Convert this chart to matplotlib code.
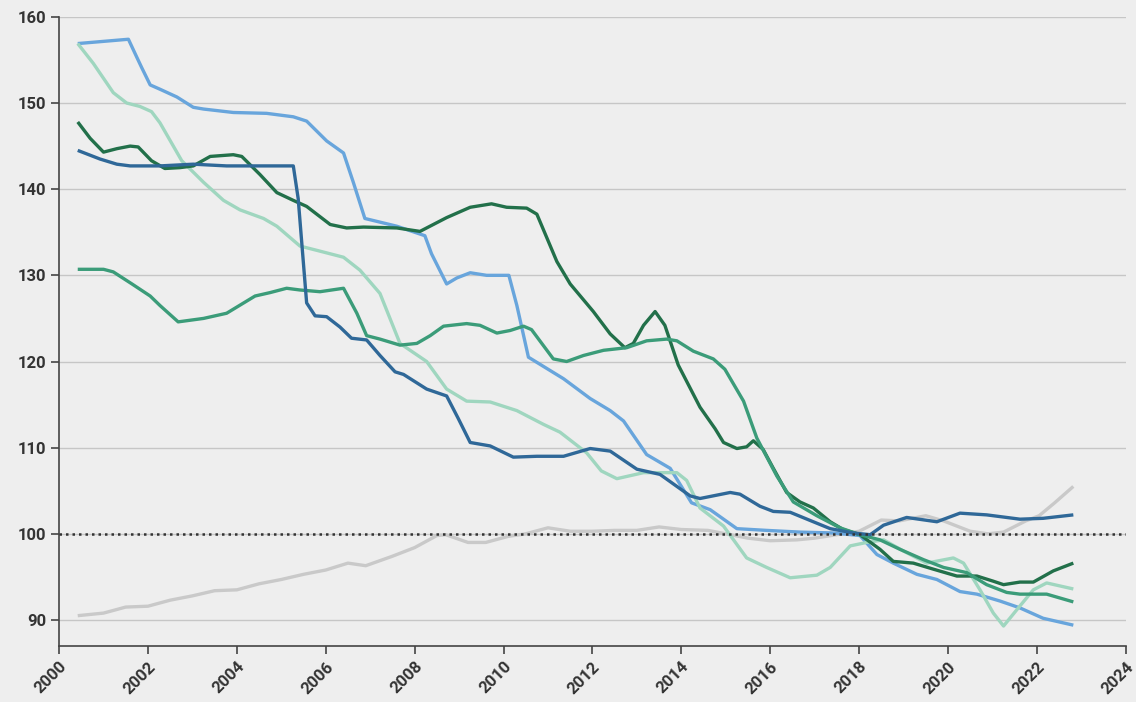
import numpy as np
import matplotlib
matplotlib.use("Agg")
import matplotlib.pyplot as plt

# Valeurs (indice, base 100 en 2018)
gray_years = [2000.42, 2001.0, 2001.5, 2002.0, 2002.5, 2003.0, 2003.5, 2004.0, 2004.5, 2005.0,
              2005.5, 2006.0, 2006.5, 2006.9, 2007.5, 2008.0, 2008.5, 2008.7, 2009.2, 2009.6,
              2010.1, 2010.5, 2011.0, 2011.5, 2012.0, 2012.5, 2013.0, 2013.5, 2014.0, 2014.6,
              2015.0, 2015.5, 2016.0, 2016.6, 2017.0, 2017.5, 2018.0, 2018.5, 2018.9, 2019.5,
              2019.9, 2020.5, 2020.9, 2021.25, 2021.75, 2022.05, 2022.4, 2022.82]
gray_vals = [90.5, 90.8, 91.5, 91.6, 92.3, 92.8, 93.4, 93.5, 94.2, 94.7,
             95.3, 95.8, 96.6, 96.3, 97.4, 98.4, 99.8, 99.9, 99.0, 99.0,
             99.7, 100.0, 100.7, 100.3, 100.3, 100.4, 100.4, 100.8, 100.5, 100.4,
             100.0, 99.5, 99.2, 99.3, 99.5, 99.9, 100.3, 101.6, 101.5, 102.1,
             101.5, 100.3, 100.0, 100.2, 101.5, 102.1, 103.6, 105.5]

lblue_years = [2000.42, 2001.56, 2001.75, 2001.86, 2002.05, 2002.27, 2002.65, 2003.02, 2003.25, 2003.92,
               2004.67, 2005.27, 2005.57, 2006.02, 2006.4, 2006.62, 2006.88, 2007.6, 2008.23, 2008.38,
               2008.72, 2008.95, 2009.25, 2009.62, 2010.12, 2010.3, 2010.56, 2011.35, 2011.95, 2012.4,
               2012.7, 2013.22, 2013.75, 2014.23, 2014.65, 2015.25, 2015.92, 2016.67, 2017.42, 2018.02,
               2018.4, 2018.77, 2019.3, 2019.75, 2020.27, 2020.65, 2021.17, 2021.62, 2022.14, 2022.82]
lblue_vals = [156.9, 157.4, 155.3, 154.1, 152.1, 151.6, 150.7, 149.5, 149.3, 148.9,
              148.8, 148.4, 147.9, 145.6, 144.2, 140.8, 136.6, 135.7, 134.6, 132.5,
              129.0, 129.7, 130.3, 130.0, 130.0, 126.5, 120.5, 118.0, 115.7, 114.3,
              113.1, 109.2, 107.6, 103.6, 102.8, 100.6, 100.4, 100.2, 100.1, 99.8,
              97.6, 96.6, 95.3, 94.7, 93.3, 93.0, 92.2, 91.4, 90.2, 89.4]

mint_years = [2000.42, 2000.77, 2001.22, 2001.52, 2001.82, 2002.08, 2002.27, 2002.76, 2003.25, 2003.7,
              2004.07, 2004.6, 2004.9, 2005.42, 2005.8, 2006.4, 2006.77, 2007.22, 2007.67, 2008.27,
              2008.72, 2009.17, 2009.7, 2010.3, 2010.9, 2011.27, 2011.87, 2012.2, 2012.55, 2013.15,
              2013.9, 2014.12, 2014.42, 2014.95, 2015.47, 2015.92, 2016.45, 2017.05, 2017.35, 2017.8,
              2018.17, 2018.55, 2019.0, 2019.52, 2020.12, 2020.35, 2020.72, 2021.02, 2021.25, 2021.55,
              2021.92, 2022.22, 2022.82]
mint_vals = [156.9, 154.6, 151.2, 150.0, 149.6, 149.0, 147.7, 143.3, 140.8, 138.7,
             137.6, 136.6, 135.7, 133.4, 132.9, 132.1, 130.6, 127.9, 122.1, 120.0,
             116.8, 115.4, 115.3, 114.3, 112.7, 111.8, 109.4, 107.3, 106.4, 107.1,
             107.1, 106.2, 103.0, 100.9, 97.2, 96.1, 94.9, 95.2, 96.1, 98.6,
             99.0, 99.3, 98.0, 96.6, 97.2, 96.6, 93.5, 90.8, 89.3, 91.2,
             93.5, 94.3, 93.6]

dgreen_years = [2000.42, 2000.7, 2001.0, 2001.3, 2001.6, 2001.78, 2002.08, 2002.38, 2002.72, 2003.02,
                2003.4, 2003.92, 2004.11, 2004.52, 2004.9, 2005.27, 2005.57, 2006.1, 2006.47, 2006.85,
                2007.6, 2008.12, 2008.72, 2009.25, 2009.73, 2010.07, 2010.52, 2010.75, 2011.2, 2011.5,
                2012.02, 2012.4, 2012.73, 2012.92, 2013.15, 2013.41, 2013.63, 2013.93, 2014.42, 2014.76,
                2014.95, 2015.25, 2015.47, 2015.62, 2015.84, 2016.07, 2016.37, 2016.67, 2016.97, 2017.35,
                2017.64, 2018.02, 2018.47, 2018.77, 2019.22, 2019.67, 2020.2, 2020.65, 2021.02, 2021.25,
                2021.62, 2021.92, 2022.37, 2022.82]
dgreen_vals = [147.8, 145.9, 144.3, 144.7, 145.0, 144.9, 143.3, 142.4, 142.5, 142.7,
               143.8, 144.0, 143.8, 141.7, 139.6, 138.7, 138.0, 135.9, 135.5, 135.6,
               135.5, 135.1, 136.7, 137.9, 138.3, 137.9, 137.8, 137.1, 131.6, 129.0,
               125.8, 123.2, 121.6, 122.1, 124.2, 125.8, 124.2, 119.6, 114.7, 112.2,
               110.6, 109.9, 110.1, 110.8, 109.8, 107.6, 104.8, 103.7, 103.0, 101.4,
               100.5, 99.9, 98.2, 96.8, 96.6, 95.9, 95.1, 95.1, 94.5, 94.1,
               94.4, 94.4, 95.7, 96.6]

mgreen_years = [2000.42, 2001.0, 2001.22, 2001.64, 2002.05, 2002.27, 2002.68, 2003.25, 2003.77, 2004.41,
                2004.75, 2005.12, 2005.42, 2005.87, 2006.4, 2006.7, 2006.92, 2007.22, 2007.67, 2008.05,
                2008.35, 2008.65, 2009.17, 2009.47, 2009.85, 2010.15, 2010.45, 2010.63, 2011.12, 2011.42,
                2011.8, 2012.25, 2012.77, 2013.22, 2013.67, 2013.9, 2014.27, 2014.72, 2014.98, 2015.4,
                2015.7, 2016.15, 2016.52, 2017.05, 2017.57, 2018.02, 2018.47, 2018.92, 2019.45, 2019.9,
                2020.42, 2020.87, 2021.32, 2021.62, 2022.22, 2022.82]
mgreen_vals = [130.7, 130.7, 130.4, 129.0, 127.6, 126.5, 124.6, 125.0, 125.6, 127.6,
               128.0, 128.5, 128.3, 128.1, 128.5, 125.6, 123.0, 122.6, 121.9, 122.1,
               123.0, 124.1, 124.4, 124.2, 123.3, 123.6, 124.1, 123.7, 120.3, 120.0,
               120.7, 121.3, 121.6, 122.4, 122.6, 122.4, 121.2, 120.3, 119.1, 115.4,
               111.1, 106.7, 103.7, 102.1, 100.7, 99.9, 99.3, 98.2, 97.0, 96.1,
               95.5, 94.1, 93.2, 93.0, 93.0, 92.1]

dblue_years = [2000.42, 2000.92, 2001.3, 2001.6, 2002.27, 2003.02, 2003.77, 2004.52, 2005.27, 2005.38,
               2005.57, 2005.76, 2006.02, 2006.32, 2006.58, 2006.92, 2007.22, 2007.56, 2007.75, 2008.27,
               2008.72, 2008.98, 2009.25, 2009.7, 2010.22, 2010.75, 2011.35, 2011.95, 2012.4, 2013.0,
               2013.52, 2014.2, 2014.42, 2015.1, 2015.32, 2015.77, 2016.07, 2016.45, 2016.97, 2017.35,
               2017.87, 2018.25, 2018.55, 2019.07, 2019.75, 2020.27, 2020.87, 2021.62, 2022.14, 2022.82]
dblue_vals = [144.5, 143.5, 142.9, 142.7, 142.7, 142.9, 142.7, 142.7, 142.7, 138.9,
              126.8, 125.3, 125.2, 124.0, 122.7, 122.5, 120.7, 118.8, 118.5, 116.8,
              116.0, 113.4, 110.6, 110.2, 108.9, 109.0, 109.0, 109.9, 109.6, 107.5,
              106.9, 104.4, 104.1, 104.8, 104.6, 103.2, 102.6, 102.5, 101.4, 100.6,
              100.1, 99.9, 101.0, 101.9, 101.4, 102.4, 102.2, 101.7, 101.8, 102.2]

x_ticks = list(range(2000, 2025, 2))
y_ticks = [90, 100, 110, 120, 130, 140, 150, 160]

series = [
    (gray_years, gray_vals, "#c9c9c9"),
    (lblue_years, lblue_vals, "#68a5dc"),
    (mint_years, mint_vals, "#9fd6bf"),
    (dgreen_years, dgreen_vals, "#22704a"),
    (mgreen_years, mgreen_vals, "#3b9c79"),
    (dblue_years, dblue_vals, "#2f6898"),
]

bg = "#eeeeee"
fig = plt.figure(figsize=(11.36, 7.02), dpi=100, facecolor=bg)
ax = fig.add_axes([0.052, 0.080, 0.939, 0.896])
ax.set_facecolor(bg)

for yrs, vals, col in series:
    ax.plot(yrs, vals, color=col, linewidth=2.4, solid_capstyle="butt", zorder=3)

ax.axhline(100, color="#333333", linestyle=(0, (1, 1.6)), linewidth=1.8, zorder=5)

ax.set_xlim(2000, 2024)
ax.set_ylim(87, 160)
ax.set_xticks(x_ticks)
ax.set_yticks(y_ticks)
ax.yaxis.grid(True, color="#c6c6c6", linewidth=1.0, zorder=0)
ax.set_axisbelow(True)

for side in ["top", "right"]:
    ax.spines[side].set_visible(False)
for side in ["left", "bottom"]:
    ax.spines[side].set_color("#444444")
    ax.spines[side].set_linewidth(1.2)

ax.tick_params(axis="both", length=6, width=1.2, color="#444444")
ax.set_yticklabels([str(v) for v in y_ticks], fontsize=12, fontweight="bold",
                   color="#333333", family="Roboto")
ax.set_xticklabels([str(v) for v in x_ticks], fontsize=12, fontweight="bold",
                   color="#333333", family="Roboto", rotation=45, ha="right",
                   rotation_mode="anchor")

fig.savefig("out.png", dpi=100, facecolor=bg)
